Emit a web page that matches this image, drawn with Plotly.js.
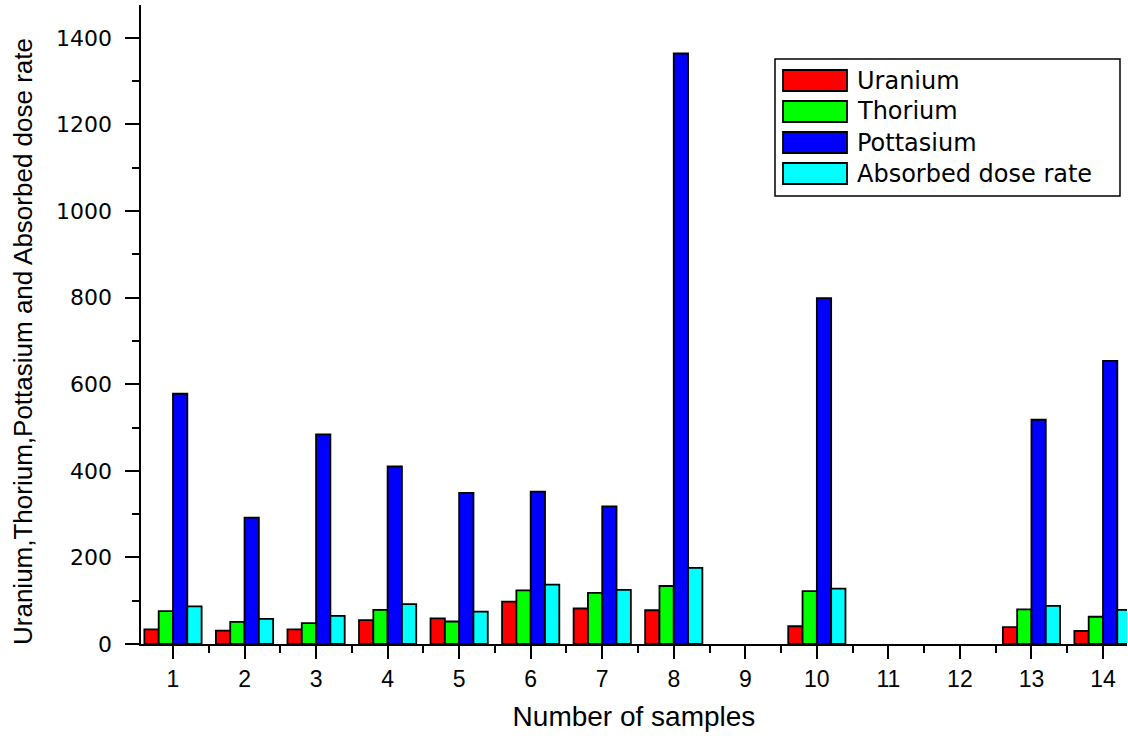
<!DOCTYPE html>
<html>
<head>
<meta charset="utf-8">
<script src="https://cdn.plot.ly/plotly-3.0.1.min.js"></script>
<style>
  html, body { margin: 0; padding: 0; background: #fff; }
  #chart { width: 1128px; height: 740px; }
</style>
</head>
<body>
<div id="chart"></div>
<script>
// ---- data ----
const samples = [1, 2, 3, 4, 5, 6, 7, 8, 9, 10, 11, 12, 13, 14];
const uranium = [34, 31, 34, 55, 59, 98, 82, 78, null, 41, null, null, 39, 30];
const thorium = [76, 51, 48, 79, 52, 124, 118, 134, null, 122, null, null, 80, 63];
const pottasium = [578, 292, 484, 410, 349, 352, 318, 1364, null, 799, null, null, 518, 654];
const absorbedDose = [87, 58, 65, 92, 75, 137, 125, 176, null, 128, null, null, 88, 79];
const seriesNames = ['Uranium', 'Thorium', 'Pottasium', 'Absorbed dose rate'];
const seriesColors = ['#FF0000', '#00FF00', '#0000FF', '#00FFFF'];
const yTitle = 'Uranium,Thorium,Pottasium and Absorbed dose rate';
const xTitle = 'Number of samples';

const seriesValues = [uranium, thorium, pottasium, absorbedDose];

const traces = seriesValues.map((vals, i) => ({
  type: 'bar',
  name: seriesNames[i],
  x: samples,
  y: vals,
  marker: { color: seriesColors[i], line: { color: '#000', width: 1.8 } },
  showlegend: false,
  hoverinfo: 'x+y+name'
}));

// plot area in pixels (for placing the custom legend and y title)
const L = 141, R = 1127, T = 5, B = 644;
const px = x => (x - L) / (R - L);
const py = y => (B - y) / (B - T);

const shapes = [];
const annotations = [];
// legend box
shapes.push({ type: 'rect', xref: 'paper', yref: 'paper',
  x0: px(775), x1: px(1120), y0: py(196), y1: py(59),
  line: { color: '#000', width: 1.5 }, fillcolor: 'rgba(255,255,255,1)', layer: 'above' });
const rowTops = [70, 101, 132, 163];
seriesNames.forEach((name, i) => {
  const top = rowTops[i], bot = top + 21;
  shapes.push({ type: 'rect', xref: 'paper', yref: 'paper',
    x0: px(783), x1: px(847), y0: py(bot), y1: py(top),
    line: { color: '#000', width: 1.8 }, fillcolor: seriesColors[i], layer: 'above' });
  annotations.push({ xref: 'paper', yref: 'paper', x: px(855), y: py((top + bot) / 2),
    xanchor: 'left', yanchor: 'middle', showarrow: false, text: name,
    font: { family: 'DejaVu Sans, Liberation Sans, Arial, sans-serif', size: 24, color: '#000' } });
});
// y axis title (placed as rotated text)
annotations.push({ xref: 'paper', yref: 'paper', x: px(23), y: py(342),
  xanchor: 'center', yanchor: 'middle', showarrow: false, textangle: -90, text: yTitle,
  font: { family: 'Liberation Sans, Arial, sans-serif', size: 26, color: '#000' } });

const layout = {
  width: 1128, height: 740,
  margin: { l: L, r: 1128 - R, t: T, b: 740 - B, pad: 0 },
  paper_bgcolor: '#fff', plot_bgcolor: '#fff',
  barmode: 'group', bargap: 0.2, bargroupgap: 0,
  showlegend: false,
  xaxis: {
    type: 'linear', range: [0.5527, 14.3355],
    tickmode: 'linear', tick0: 1, dtick: 1,
    ticks: 'outside', ticklen: 13, tickwidth: 2, tickcolor: '#000',
    minor: { ticks: 'outside', ticklen: 7, tickwidth: 2, tickcolor: '#000', tick0: 0.5, dtick: 0.5, showgrid: false },
    showline: true, linecolor: '#000', linewidth: 2,
    showgrid: false, zeroline: false,
    tickfont: { family: 'Liberation Sans, Arial, sans-serif', size: 23, color: '#000' },
    title: { text: xTitle, standoff: 16,
      font: { family: 'Liberation Sans, Arial, sans-serif', size: 28, color: '#000' } }
  },
  yaxis: {
    range: [0, 1476],
    tickmode: 'linear', tick0: 0, dtick: 200,
    ticks: 'outside', ticklen: 14, tickwidth: 2, tickcolor: '#000',
    minor: { ticks: 'outside', ticklen: 7, tickwidth: 2, tickcolor: '#000', dtick: 100, showgrid: false },
    showline: true, linecolor: '#000', linewidth: 2.5,
    showgrid: false, zeroline: false,
    ticklabelstandoff: 8,
    tickfont: { family: 'DejaVu Sans, Liberation Sans, Arial, sans-serif', size: 22, color: '#000' },
    title: { text: '' }
  },
  shapes: shapes,
  annotations: annotations
};

Plotly.newPlot('chart', traces, layout, { displayModeBar: false, staticPlot: true });
</script>
</body>
</html>
